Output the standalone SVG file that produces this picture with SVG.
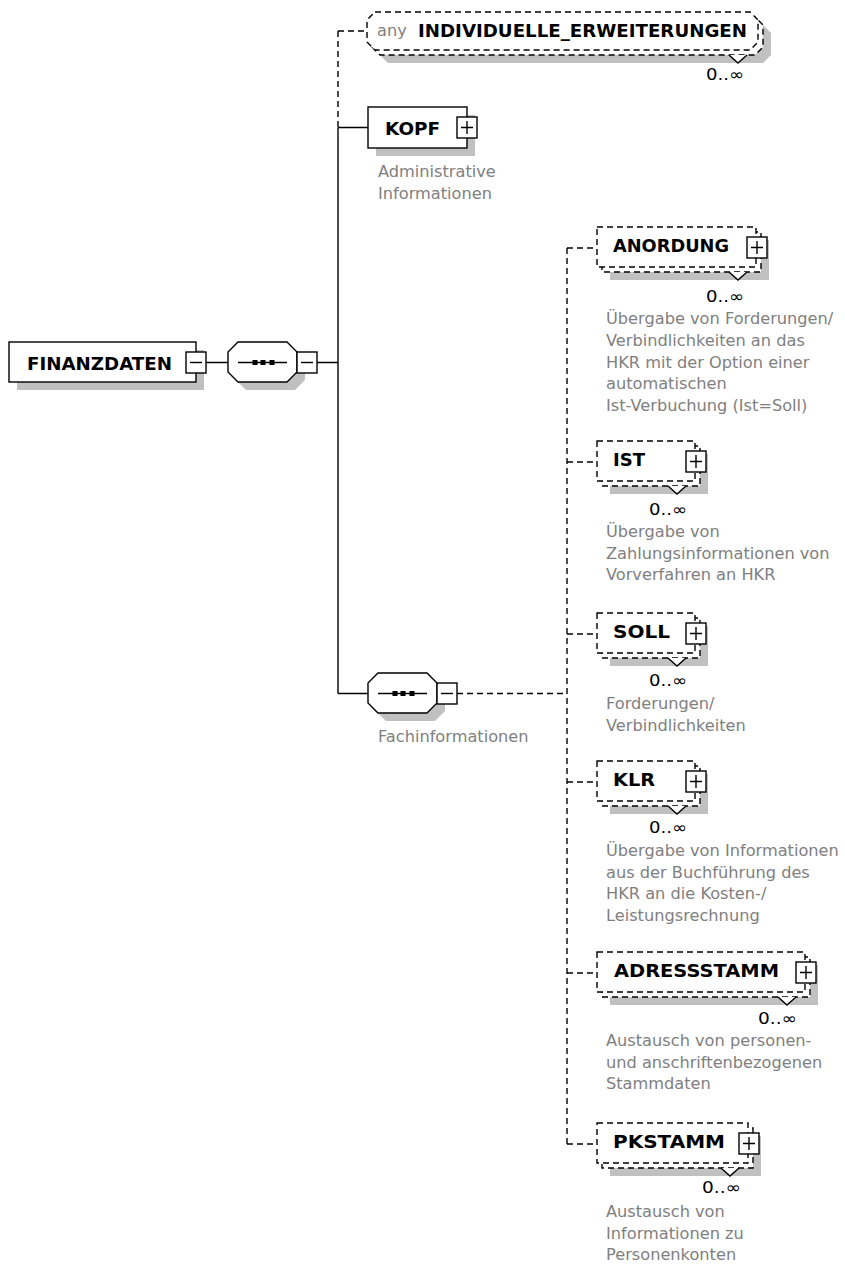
<svg xmlns="http://www.w3.org/2000/svg" width="845" height="1266" viewBox="0 0 845 1266">
<style>
.bg{fill:#fff}
.sh{fill:#c0c0c0;stroke:none}
.bx{fill:#fff;stroke:#000;stroke-width:1.4}
.ds{stroke-dasharray:6 4}
.ln{fill:none;stroke:#000;stroke-width:1.4}
.nm{font-family:"DejaVu Sans",sans-serif;font-weight:bold;font-size:18px;fill:#000}
.dc{font-family:"DejaVu Sans",sans-serif;font-size:16.2px;fill:#808080}
.cd{font-family:"DejaVu Sans",sans-serif;font-size:16px;fill:#000;text-anchor:end}
</style>
<rect class="bg" x="0" y="0" width="845" height="1266"/>

<g id="connectors">
  <path class="ln ds" d="M338,31 V127.5 M338,31 H367"/>
  <path class="ln" d="M338,127.5 V693.5 M338,127.5 H368 M338,693.5 H368"/>
  <path class="ln" d="M206,362.5 H228 M317,362.5 H338"/>
  <path class="ln ds" d="M457,693.5 H567 M567,248 V1144"/>
  <path class="ln ds" d="M567,248 H597 M567,462 H597 M567,634 H597 M567,782 H597 M567,973 H597 M567,1144 H597"/>
</g>

<g id="FINANZDATEN">
  <rect class="sh" x="17" y="350" width="187" height="40"/>
  <rect class="bx" x="9" y="342" width="187" height="40"/>
  <text class="nm" x="27" y="370" textLength="145" lengthAdjust="spacingAndGlyphs">FINANZDATEN</text>
  <rect class="bx" x="186" y="352" width="20" height="21"/>
  <path class="ln" d="M190,362.5 H202"/>
</g>

<g id="seq1">
  <path class="sh" d="M246,350 H295 L305,360 V380 L295,390 H246 L236,380 V360 Z"/>
  <path class="bx" d="M238,342 H287 L297,352 V372 L287,382 H238 L228,372 V352 Z"/>
  <path class="ln" d="M238,362.5 H287"/>
  <rect x="252.5" y="360" width="5" height="5" fill="#000"/>
  <rect x="260.5" y="360" width="5" height="5" fill="#000"/>
  <rect x="269.5" y="360" width="5" height="5" fill="#000"/>
  <rect class="bx" x="297" y="352" width="20" height="21"/>
  <path class="ln" d="M301,362.5 H313"/>
</g>

<g id="INDIVIDUELLE_ERWEITERUNGEN">
  <path class="sh" d="M388,25 H763 L771,33 V55 L763,63 H388 L380,55 V33 Z"/>
  <path class="bx ds" d="M380,17 H755 L763,25 V47 L755,55 H380 L372,47 V25 Z"/>
  <path class="bx ds" d="M375,12 H750 L758,20 V42 L750,50 H375 L367,42 V20 Z"/>
  <path class="ln" style="fill:#fff" d="M729,55 L738,63 L747,55"/>
  <text class="dc" x="377" y="36">any</text>
  <text class="nm" x="418" y="37" textLength="329" lengthAdjust="spacingAndGlyphs">INDIVIDUELLE_ERWEITERUNGEN</text>
  <text class="cd" x="744" y="80" textLength="38" lengthAdjust="spacingAndGlyphs">0..∞</text>
</g>

<g id="KOPF">
  <rect class="sh" x="376" y="115" width="99" height="41"/>
  <rect class="bx" x="368" y="107" width="99" height="41"/>
  <text class="nm" x="385" y="135" textLength="55" lengthAdjust="spacingAndGlyphs">KOPF</text>
  <rect class="bx" x="457" y="117" width="20" height="21"/>
  <path class="ln" d="M461,127.5 H473 M467,121 V134"/>
  <text class="dc" x="378" y="177">Administrative</text>
  <text class="dc" x="378" y="198.5">Informationen</text>
</g>

<g id="seq2">
  <path class="sh" d="M386,681 H435 L445,691 V711 L435,721 H386 L376,711 V691 Z"/>
  <path class="bx" d="M378,673 H427 L437,683 V703 L427,713 H378 L368,703 V683 Z"/>
  <path class="ln" d="M378,693.5 H427"/>
  <rect x="392.5" y="691" width="5" height="5" fill="#000"/>
  <rect x="400.5" y="691" width="5" height="5" fill="#000"/>
  <rect x="409.5" y="691" width="5" height="5" fill="#000"/>
  <rect class="bx" x="437" y="683" width="20" height="21"/>
  <path class="ln" d="M441,693.5 H453"/>
  <text class="dc" x="378" y="742">Fachinformationen</text>
</g>

<g id="ANORDUNG">
  <rect class="sh" x="610" y="240" width="159" height="40"/>
  <rect class="bx ds" x="602" y="232" width="159" height="40"/>
  <rect class="bx ds" x="597" y="227" width="159" height="40"/>
  <path class="ln" style="fill:#fff" d="M729,272 L738,280 L747,272"/>
  <text class="nm" x="613" y="252" textLength="116" lengthAdjust="spacingAndGlyphs">ANORDUNG</text>
  <rect class="bx" x="747" y="237" width="20" height="21"/>
  <path class="ln" d="M751,247.5 H763 M757,241 V254"/>
  <text class="cd" x="744" y="302" textLength="38" lengthAdjust="spacingAndGlyphs">0..∞</text>
  <text class="dc" x="606" y="324">Übergabe von Forderungen/</text>
  <text class="dc" x="606" y="345.8">Verbindlichkeiten an das</text>
  <text class="dc" x="606" y="367.6">HKR mit der Option einer</text>
  <text class="dc" x="606" y="389.4">automatischen</text>
  <text class="dc" x="606" y="411.2">Ist-Verbuchung (Ist=Soll)</text>
</g>

<g id="IST">
  <rect class="sh" x="610" y="454" width="98" height="40"/>
  <rect class="bx ds" x="602" y="446" width="98" height="40"/>
  <rect class="bx ds" x="597" y="441" width="98" height="40"/>
  <path class="ln" style="fill:#fff" d="M668,486 L677,494 L686,486"/>
  <text class="nm" x="613" y="466" textLength="32" lengthAdjust="spacingAndGlyphs">IST</text>
  <rect class="bx" x="686" y="451" width="20" height="21"/>
  <path class="ln" d="M690,461.5 H702 M696,455 V468"/>
  <text class="cd" x="687" y="515" textLength="38" lengthAdjust="spacingAndGlyphs">0..∞</text>
  <text class="dc" x="606" y="537">Übergabe von</text>
  <text class="dc" x="606" y="558.7">Zahlungsinformationen von</text>
  <text class="dc" x="606" y="580.4">Vorverfahren an HKR</text>
</g>

<g id="SOLL">
  <rect class="sh" x="610" y="626" width="98" height="40"/>
  <rect class="bx ds" x="602" y="618" width="98" height="40"/>
  <rect class="bx ds" x="597" y="613" width="98" height="40"/>
  <path class="ln" style="fill:#fff" d="M668,658 L677,666 L686,658"/>
  <text class="nm" x="613" y="638" textLength="57" lengthAdjust="spacingAndGlyphs">SOLL</text>
  <rect class="bx" x="686" y="623" width="20" height="21"/>
  <path class="ln" d="M690,633.5 H702 M696,627 V640"/>
  <text class="cd" x="687" y="686" textLength="38" lengthAdjust="spacingAndGlyphs">0..∞</text>
  <text class="dc" x="606" y="709">Forderungen/</text>
  <text class="dc" x="606" y="730.7">Verbindlichkeiten</text>
</g>

<g id="KLR">
  <rect class="sh" x="610" y="774" width="98" height="40"/>
  <rect class="bx ds" x="602" y="766" width="98" height="40"/>
  <rect class="bx ds" x="597" y="761" width="98" height="40"/>
  <path class="ln" style="fill:#fff" d="M668,806 L677,814 L686,806"/>
  <text class="nm" x="613" y="786" textLength="42" lengthAdjust="spacingAndGlyphs">KLR</text>
  <rect class="bx" x="686" y="771" width="20" height="21"/>
  <path class="ln" d="M690,781.5 H702 M696,775 V788"/>
  <text class="cd" x="687" y="833" textLength="38" lengthAdjust="spacingAndGlyphs">0..∞</text>
  <text class="dc" x="606" y="856">Übergabe von Informationen</text>
  <text class="dc" x="606" y="877.7">aus der Buchführung des</text>
  <text class="dc" x="606" y="899.4">HKR an die Kosten-/</text>
  <text class="dc" x="606" y="921.1">Leistungsrechnung</text>
</g>

<g id="ADRESSSTAMM">
  <rect class="sh" x="610" y="965" width="208" height="40"/>
  <rect class="bx ds" x="602" y="957" width="208" height="40"/>
  <rect class="bx ds" x="597" y="952" width="208" height="40"/>
  <path class="ln" style="fill:#fff" d="M778,997 L787,1005 L796,997"/>
  <text class="nm" x="614" y="977" textLength="165" lengthAdjust="spacingAndGlyphs">ADRESSSTAMM</text>
  <rect class="bx" x="796" y="962" width="20" height="21"/>
  <path class="ln" d="M800,972.5 H812 M806,966 V979"/>
  <text class="cd" x="797" y="1024" textLength="39" lengthAdjust="spacingAndGlyphs">0..∞</text>
  <text class="dc" x="606" y="1046">Austausch von personen-</text>
  <text class="dc" x="606" y="1067.7">und anschriftenbezogenen</text>
  <text class="dc" x="606" y="1089.4">Stammdaten</text>
</g>

<g id="PKSTAMM">
  <rect class="sh" x="610" y="1136" width="151" height="40"/>
  <rect class="bx ds" x="602" y="1128" width="151" height="40"/>
  <rect class="bx ds" x="597" y="1123" width="151" height="40"/>
  <path class="ln" style="fill:#fff" d="M721,1168 L730,1176 L739,1168"/>
  <text class="nm" x="613" y="1148" textLength="112" lengthAdjust="spacingAndGlyphs">PKSTAMM</text>
  <rect class="bx" x="739" y="1133" width="20" height="21"/>
  <path class="ln" d="M743,1143.5 H755 M749,1137 V1150"/>
  <text class="cd" x="741" y="1193" textLength="39" lengthAdjust="spacingAndGlyphs">0..∞</text>
  <text class="dc" x="606" y="1217">Austausch von</text>
  <text class="dc" x="606" y="1238.7">Informationen zu</text>
  <text class="dc" x="606" y="1260.4">Personenkonten</text>
</g>
</svg>
